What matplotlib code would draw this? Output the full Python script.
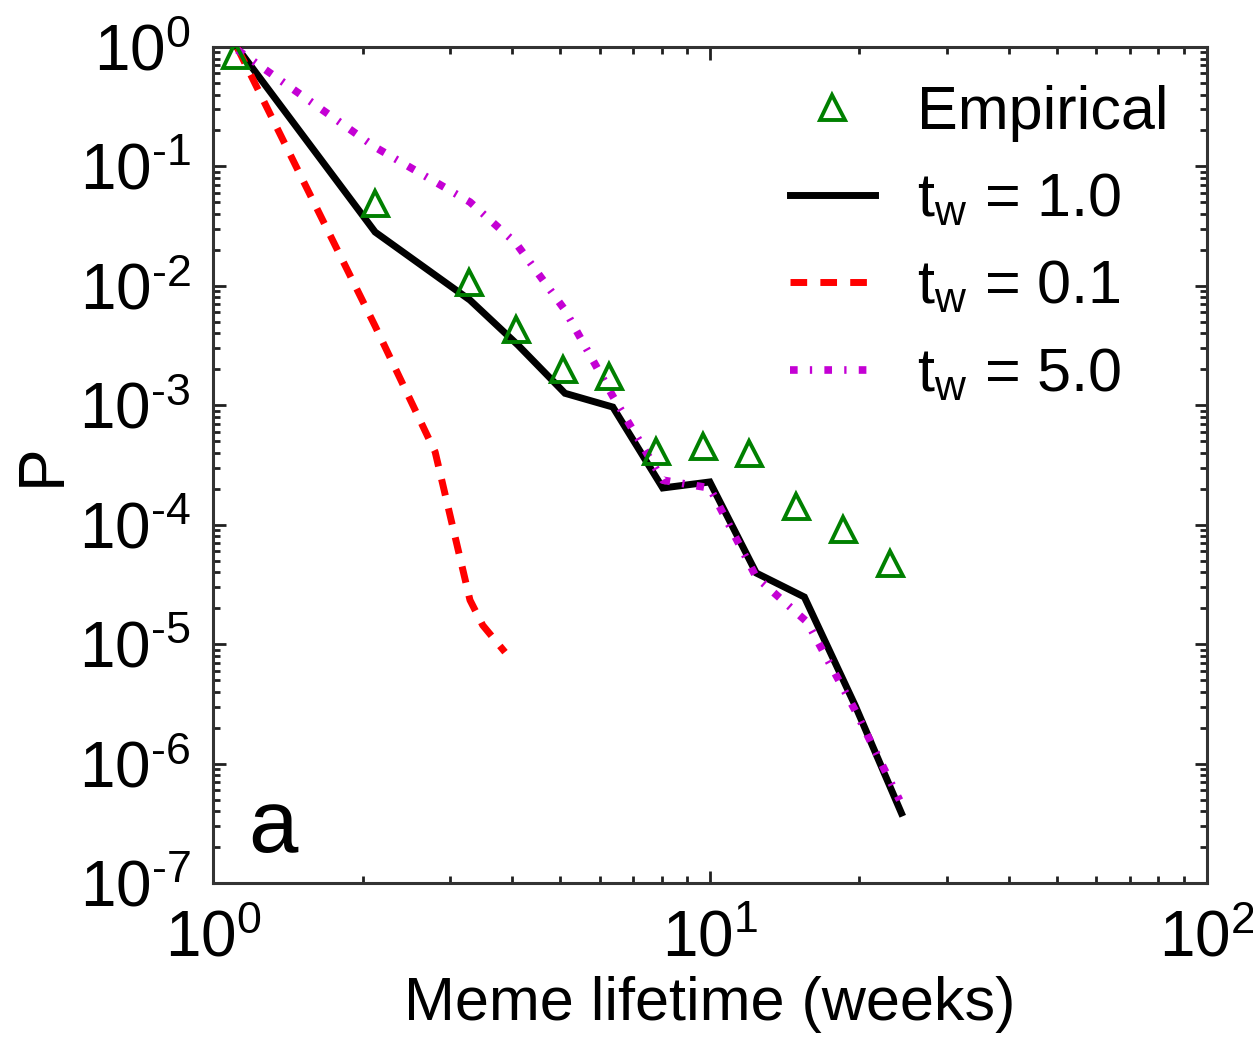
import matplotlib
matplotlib.use("Agg")
import matplotlib.pyplot as plt
from matplotlib.ticker import LogLocator, NullFormatter, FuncFormatter
import numpy as np

plt.rcParams['font.family'] = ['Liberation Sans', 'DejaVu Sans']
plt.rcParams['mathtext.fontset'] = 'custom'
plt.rcParams['mathtext.rm'] = 'Liberation Sans'
plt.rcParams['mathtext.it'] = 'Liberation Sans:italic'
plt.rcParams['mathtext.bf'] = 'Liberation Sans:bold'

# Empirical data
emp_x = [1.107, 2.12, 3.27, 4.07, 5.06, 6.26, 7.78, 9.68, 12.0, 14.9, 18.5, 23.0]
emp_y = [0.857, 0.0493, 0.0108, 0.00435, 0.00201, 0.00176, 4.13e-4, 4.55e-4,
         3.98e-4, 1.43e-4, 9.2e-5, 4.77e-5]

# Model t_w = 1.0
m1_x = [1.12, 2.12, 3.29, 4.11, 5.11, 6.38, 8.04, 10.0, 12.4, 15.5, 19.6, 24.3]
m1_y = [0.98, 0.0282, 0.0076, 3.19e-3, 1.26e-3, 9.66e-4, 2.03e-4, 2.28e-4,
        3.94e-5, 2.48e-5, 3.08e-6, 3.85e-7]

# Model t_w = 0.1
m01_x = [1.12, 2.12, 2.80, 3.29, 3.49, 3.87]
m01_y = [0.98, 4.6e-3, 4.06e-4, 2.34e-5, 1.44e-5, 8.57e-6]

# Model t_w = 5.0
m5_x = [1.12, 2.12, 3.29, 4.07, 5.11, 6.38, 8.04, 10.0, 12.4, 15.7, 19.6, 24.1]
m5_y = [0.944, 0.145, 0.0503, 0.0228, 6.27e-3, 1.19e-3, 2.36e-4, 2.03e-4,
        3.64e-5, 1.53e-5, 2.8e-6, 4.94e-7]

labels = ['Empirical', r'$\mathregular{t_w}$ = 1.0', r'$\mathregular{t_w}$ = 0.1',
          r'$\mathregular{t_w}$ = 5.0']


def pow_fmt(v, pos):
    e = int(round(np.log10(v)))
    if e < 0:
        return r'$10^{\text{-}%d}$' % (-e)
    return r'$10^{%d}$' % e


fig = plt.figure(figsize=(12.53, 10.37), dpi=100)
ax = fig.add_axes([0.170, 0.1485, 0.793, 0.8062])

ax.plot(emp_x, emp_y, linestyle='none', marker='^', markersize=18,
        markerfacecolor='none', markeredgecolor='#008000', markeredgewidth=2.8,
        label=labels[0], zorder=4)
ax.plot(m1_x, m1_y, color='black', lw=5, solid_joinstyle='miter', label=labels[1], zorder=3)
ax.plot(m01_x, m01_y, color='#ff0000', lw=5, dashes=(2.4, 1.9), label=labels[2], zorder=3)
ax.plot(m5_x, m5_y, color='#c400d4', lw=5.5, dashes=(1.0, 1.6, 0.3, 1.6), label=labels[3], zorder=3)

ax.set_xscale('log')
ax.set_yscale('log')
ax.set_xlim(1, 100)
ax.set_ylim(1e-7, 1)
ax.yaxis.set_major_locator(LogLocator(base=10, numticks=20))
ax.yaxis.set_minor_locator(LogLocator(base=10, subs=range(2, 10), numticks=20))
ax.yaxis.set_minor_formatter(NullFormatter())
ax.xaxis.set_minor_formatter(NullFormatter())
ax.xaxis.set_major_formatter(FuncFormatter(pow_fmt))
ax.yaxis.set_major_formatter(FuncFormatter(pow_fmt))

for s in ax.spines.values():
    s.set_linewidth(2.2)
    s.set_color('#333333')

ax.tick_params(which='both', direction='in', top=True, right=True, width=2.0, color='#202020')
ax.tick_params(which='major', length=9, labelsize=46)
ax.tick_params(axis='y', which='major', pad=16)
ax.tick_params(axis='x', which='major', pad=19)
ax.tick_params(which='minor', length=5)

ax.set_xlabel('Meme lifetime (weeks)', fontsize=44, labelpad=5)
ax.set_ylabel('P', fontsize=46, labelpad=4)

ax.text(0.035, 0.037, 'a', transform=ax.transAxes, fontsize=64, ha='left', va='baseline')

leg = ax.legend(loc='upper right', bbox_to_anchor=(0.962, 0.955), frameon=False, fontsize=44,
                handlelength=1.39, handletextpad=0.70, labelspacing=0.50, borderaxespad=0.0,
                borderpad=0.0)

fig.savefig('out.png', dpi=100, facecolor='white')
